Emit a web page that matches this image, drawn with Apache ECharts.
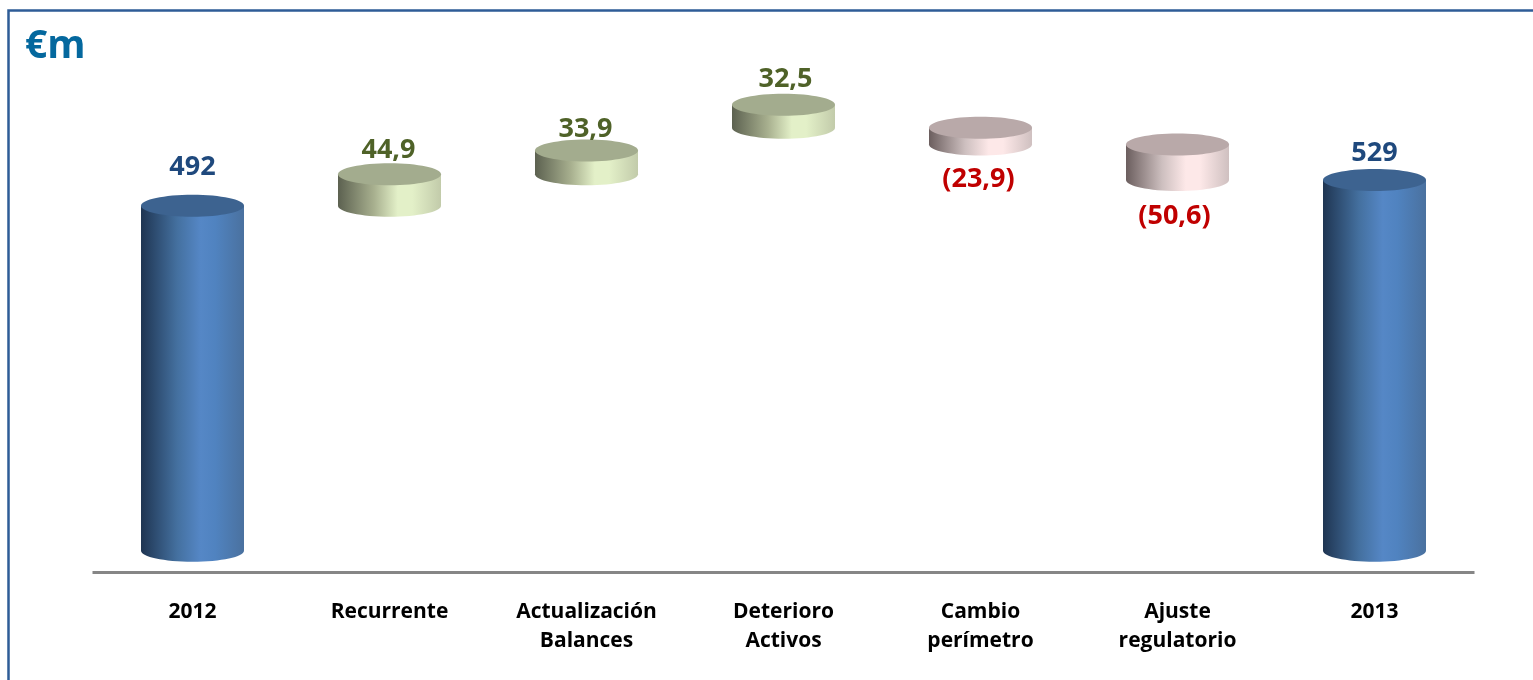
<!DOCTYPE html>
<html>
<head>
<meta charset="utf-8">
<title>Puente €m</title>
<style>
  html, body { margin: 0; padding: 0; background: #fff; }
  #chart { width: 1533px; height: 680px; }
</style>
<script src="https://cdn.jsdelivr.net/npm/echarts@6/dist/echarts.min.js"></script>
</head>
<body>
<div id="chart"></div>
<script>
const categories = ["2012", "Recurrente", "Actualización\nBalances", "Deterioro\nActivos", "Cambio\nperímetro", "Ajuste\nregulatorio", "2013"];
// bottom and top of each cylinder, in €m
const lows = [0, 492, 536.9, 603.5, 579.6, 529, 0];
const highs = [492, 536.9, 570.8, 636, 603.5, 579.6, 529];
const valueLabels = ["492", "44,9", "33,9", "32,5", "(23,9)", "(50,6)", "529"];
const kinds = ["total", "up", "up", "up", "down", "down", "total"];

// estilos por tipo de barra
const styles = {
  total: { top: "#3D6390", text: "#1F497D", stops: ["#1F3552", "#44709F", "#5587C6", "#5083C0", "#4A719F"] },
  up: { top: "#A3AC8E", text: "#4F6228", stops: ["#5C6150", "#A8B08F", "#E3F0C8", "#E3F0C8", "#C2CBAA"] },
  down: { top: "#B9A9A9", text: "#C00000", stops: ["#6B5E5E", "#CDBFBF", "#FDE8E8", "#FDE8E8", "#CFC0C0"] },
};
// distancia de la etiqueta respecto a la cara del cilindro
const labelGaps = [39, 24, 21, 26, -35, -36, 27];
const labelShifts = [0, -1, -1, 2, -2, -3, 0];

const chart = echarts.init(document.getElementById("chart"));

function renderCylinder(params, api) {
  const i = params.dataIndex;
  const style = styles[kinds[i]];
  const low = api.coord([i, api.value(1)]);
  const high = api.coord([i, api.value(2)]);
  const rx = 51.5;
  const ry = 11;
  const fill = new echarts.graphic.LinearGradient(0, 0, 1, 0, [
    { offset: 0, color: style.stops[0] },
    { offset: 0.35, color: style.stops[1] },
    { offset: 0.58, color: style.stops[2] },
    { offset: 0.72, color: style.stops[3] },
    { offset: 1, color: style.stops[4] },
  ]);
  return {
    type: "group",
    children: [
      { type: "rect", shape: { x: low[0] - rx, y: high[1], width: rx * 2, height: low[1] - high[1] }, style: { fill: fill } },
      { type: "ellipse", shape: { cx: low[0], cy: low[1], rx: rx, ry: ry }, style: { fill: fill } },
      { type: "ellipse", shape: { cx: low[0], cy: high[1], rx: rx, ry: ry }, style: { fill: style.top } },
      {
        type: "text",
        x: low[0] + labelShifts[i],
        y: (labelGaps[i] < 0 ? low[1] : high[1]) - labelGaps[i],
        style: {
          text: valueLabels[i],
          fill: style.text,
          font: 'bold 27px "Open Sans", sans-serif',
          align: "center",
          verticalAlign: "middle",
        },
      },
    ],
  };
}

chart.setOption({
  animation: false,
  backgroundColor: "#fff",
  graphic: [
    { type: "polyline", shape: { points: [[8.5, 690], [8.5, 10.5], [1533, 10.5]] }, style: { fill: "none", stroke: "#2E5C97", lineWidth: 2.5 } },
    { type: "text", x: 25, y: 47, style: { text: "€m", fill: "#04689E", font: 'bold 39px "Open Sans", sans-serif', verticalAlign: "middle" } },
  ],
  grid: { left: 94, right: 60, top: 60, bottom: 107.5 },
  xAxis: {
    type: "category",
    data: categories,
    axisLine: { onZero: false, lineStyle: { color: "#868686", width: 3, cap: "square" } },
    axisTick: { show: false },
    axisLabel: {
      interval: 0,
      margin: 25,
      color: "#000",
      fontFamily: "Open Sans",
      fontWeight: "bold",
      fontSize: 21,
      lineHeight: 29,
    },
  },
  yAxis: { type: "value", min: -31, max: 700, show: false, splitLine: { show: false } },
  series: [
    {
      type: "custom",
      renderItem: renderCylinder,
      clip: false,
      encode: { x: 0, y: [1, 2] },
      data: categories.map((c, i) => [i, lows[i], highs[i]]),
    },
  ],
});
</script>
</body>
</html>
